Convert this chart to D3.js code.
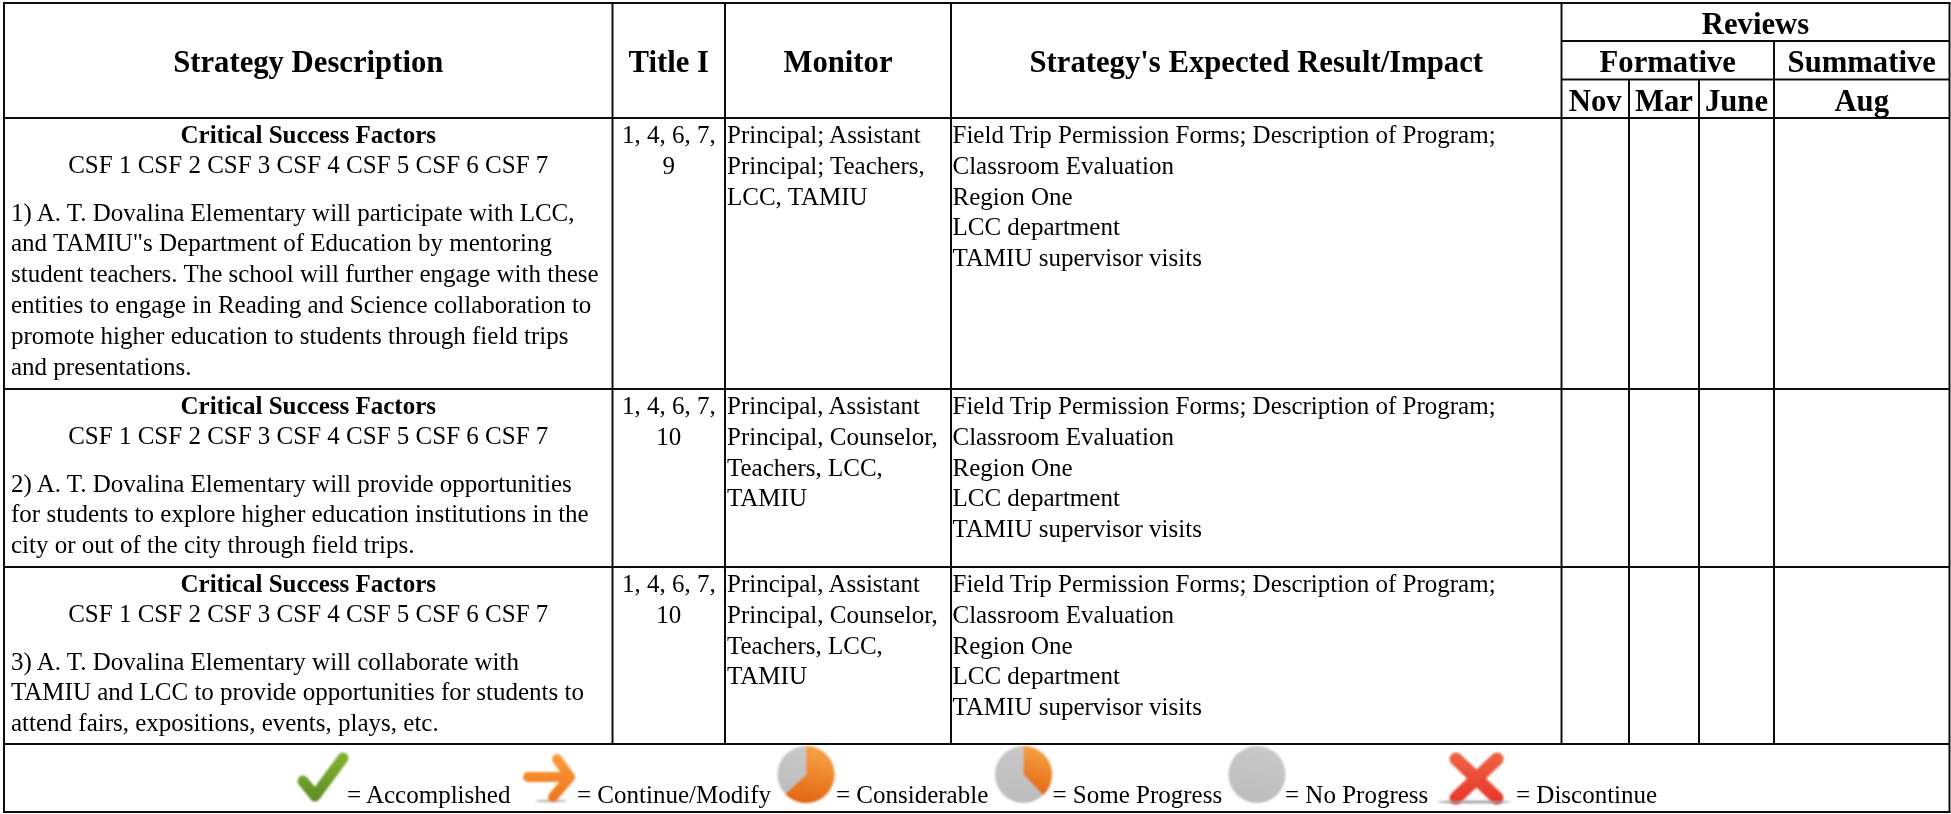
<!DOCTYPE html>
<html>
<head>
<meta charset="utf-8">
<script src="https://cdn.jsdelivr.net/npm/d3@7"></script>
<style>
  html, body { margin: 0; padding: 0; background: #fff; overflow: hidden; }
  text { font-family: "Liberation Serif", serif; fill: #000; }
</style>
</head>
<body>
<div id="wrapper"></div>
<script>
const columns = ["strategy", "title", "monitor", "impact", "nov", "mar", "june", "aug"];
const rows = ["reviews", "reviewType", "months", "one", "two", "three", "legend"];

const headerLabels = [
  { text: "Strategy Description", col: "strategy", span: 1, row: "reviewType" },
  { text: "Title I", col: "title", span: 1, row: "reviewType" },
  { text: "Monitor", col: "monitor", span: 1, row: "reviewType" },
  { text: "Strategy's Expected Result/Impact", col: "impact", span: 1, row: "reviewType" },
  { text: "Reviews", col: "nov", span: 4, row: "reviews" },
  { text: "Formative", col: "nov", span: 3, row: "reviewType" },
  { text: "Summative", col: "aug", span: 1, row: "reviewType" },
  { text: "Nov", col: "nov", span: 1, row: "months" },
  { text: "Mar", col: "mar", span: 1, row: "months" },
  { text: "June", col: "june", span: 1, row: "months" },
  { text: "Aug", col: "aug", span: 1, row: "months" }
];

const csfTitle = "Critical Success Factors";
const csfList = "CSF 1 CSF 2 CSF 3 CSF 4 CSF 5 CSF 6 CSF 7";

const strategyOne = [
  "1) A. T. Dovalina Elementary will participate with LCC,",
  "and TAMIU\"s Department of Education by mentoring",
  "student teachers. The school will further engage with these",
  "entities to engage in Reading and Science collaboration to",
  "promote higher education to students through field trips",
  "and presentations."
];
const strategyTwo = [
  "2) A. T. Dovalina Elementary will provide opportunities",
  "for students to explore higher education institutions in the",
  "city or out of the city through field trips."
];
const strategyThree = [
  "3) A. T. Dovalina Elementary will collaborate with",
  "TAMIU and LCC to provide opportunities for students to",
  "attend fairs, expositions, events, plays, etc."
];

const titleOne = ["1, 4, 6, 7,", "9"];
const titleTwo = ["1, 4, 6, 7,", "10"];
const titleThree = ["1, 4, 6, 7,", "10"];

const monitorOne = ["Principal; Assistant", "Principal; Teachers,", "LCC, TAMIU"];
const monitorTwo = ["Principal, Assistant", "Principal, Counselor,", "Teachers, LCC,", "TAMIU"];
const monitorThree = ["Principal, Assistant", "Principal, Counselor,", "Teachers, LCC,", "TAMIU"];

const impactLines = [
  "Field Trip Permission Forms; Description of Program;",
  "Classroom Evaluation",
  "Region One",
  "LCC department",
  "TAMIU supervisor visits"
];

const legendLabels = ["= Accomplished", "= Continue/Modify", "= Considerable", "= Some Progress", "= No Progress", "= Discontinue"];

// layout
const width = 1951, height = 814;
const xEdges = [4, 612.5, 725, 951, 1561.5, 1629, 1699, 1774, 1949.5];
const yEdges = [3, 41, 79.5, 118, 389, 567, 744, 812];
const lineStep = 30.8;
const fontSize = 25;
const headerSize = 30.7;

const x = d3.scaleOrdinal().domain(columns.concat("end")).range(xEdges);
const y = d3.scaleOrdinal().domain(rows.concat("end")).range(yEdges);

const svg = d3.select("#wrapper").append("svg")
  .attr("width", width)
  .attr("height", height)
  .style("display", "block");

const defs = svg.append("defs");
function blur(id, amount) {
  defs.append("filter").attr("id", id)
    .attr("x", "-20%").attr("y", "-20%").attr("width", "140%").attr("height", "140%")
    .append("feGaussianBlur").attr("stdDeviation", amount);
}
blur("crisp", 0.35);
blur("soft", 0.9);
defs.append("filter").attr("id", "shadow")
  .attr("x", "-20%").attr("y", "-400%").attr("width", "140%").attr("height", "900%")
  .append("feGaussianBlur").attr("stdDeviation", 1.2);

function gradient(id, top, bottom) {
  const g = defs.append("linearGradient").attr("id", id)
    .attr("x1", 0.6).attr("y1", 0).attr("x2", 0.4).attr("y2", 1)
    .attr("gradientUnits", "objectBoundingBox");
  g.append("stop").attr("offset", "0%").attr("stop-color", top);
  g.append("stop").attr("offset", "100%").attr("stop-color", bottom);
}
gradient("pieOrange", "#f7a548", "#e2660f");
gradient("pieGray", "#c9c9c9", "#bcbcbc");

// same colours for the stroked icons, in page units
function strokeGradient(id, y1, y2, top, bottom) {
  const g = defs.append("linearGradient").attr("id", id)
    .attr("gradientUnits", "userSpaceOnUse")
    .attr("x1", 0).attr("x2", 0).attr("y1", y1).attr("y2", y2);
  g.append("stop").attr("offset", "0%").attr("stop-color", top);
  g.append("stop").attr("offset", "100%").attr("stop-color", bottom);
}
strokeGradient("checkGreen", 752, 803, "#84b52f", "#5b8a26");
strokeGradient("arrowOrange", 755, 803, "#fb9a3c", "#ee7419");
strokeGradient("crossRed", 752, 803, "#ee6544", "#e8342a");

const page = svg.append("g").attr("filter", "url(#crisp)");

// grid lines
const grid = page.append("g").attr("stroke", "#111").attr("stroke-width", 2);

function hline(y0, x1, x2) {
  grid.append("line").attr("x1", x1).attr("x2", x2).attr("y1", y0).attr("y2", y0);
}
function vline(x0, y1, y2) {
  grid.append("line").attr("x1", x0).attr("x2", x0).attr("y1", y1).attr("y2", y2);
}

hline(y("reviews"), x("strategy") - 1, x("end") + 1);
hline(y("reviewType"), x("nov"), x("end"));
hline(y("months"), x("nov"), x("end"));
["months", "one", "two", "three"].forEach(r => {
  const next = rows[rows.indexOf(r) + 1];
  hline(y(next), x("strategy"), x("end"));
});
hline(y("end"), x("strategy") - 1, x("end") + 1);

vline(x("strategy"), y("reviews"), y("end"));
vline(x("end"), y("reviews"), y("end"));
["title", "monitor", "impact", "nov"].forEach(c => vline(x(c), y("reviews"), y("legend")));
vline(x("aug"), y("reviewType"), y("legend"));
["mar", "june"].forEach(c => vline(x(c), y("months"), y("legend")));

// header
const nextCol = (c, span) => columns.concat("end")[columns.indexOf(c) + span];
page.append("g").selectAll("text")
  .data(headerLabels)
  .join("text")
    .attr("x", d => (x(d.col) + x(nextCol(d.col, d.span))) / 2)
    .attr("y", d => y(d.row) + 31)
    .attr("text-anchor", "middle")
    .attr("font-size", headerSize)
    .attr("font-weight", "bold")
    .text(d => d.text);

// body rows
const body = [
  { row: "one", strategy: strategyOne, title: titleOne, monitor: monitorOne },
  { row: "two", strategy: strategyTwo, title: titleTwo, monitor: monitorTwo },
  { row: "three", strategy: strategyThree, title: titleThree, monitor: monitorThree }
];

function textBlock(g, lines, xPos, yPos, anchor, weight) {
  g.append("g").selectAll("text")
    .data(lines)
    .join("text")
      .attr("x", xPos)
      .attr("y", (d, i) => yPos + i * lineStep)
      .attr("text-anchor", anchor)
      .attr("font-size", fontSize)
      .attr("font-weight", weight)
      .text(d => d);
}

body.forEach(b => {
  const g = page.append("g");
  const top = y(b.row);
  const strategyMid = (x("strategy") + x("title")) / 2;
  textBlock(g, [csfTitle], strategyMid, top + 25, "middle", "bold");
  textBlock(g, [csfList], strategyMid, top + 55, "middle", "normal");
  textBlock(g, b.strategy, x("strategy") + 7, top + 102.5, "start", "normal");
  textBlock(g, b.title, (x("title") + x("monitor")) / 2, top + 25, "middle", "normal");
  textBlock(g, b.monitor, x("monitor") + 2, top + 25, "start", "normal");
  textBlock(g, impactLines, x("impact") + 1.5, top + 25, "start", "normal");
});

// legend
const legendX = d3.scaleOrdinal().domain(legendLabels).range([347, 577, 836, 1052.5, 1285, 1516]);
const legendY = y("legend") + 59;
page.append("g").selectAll("text")
  .data(legendLabels)
  .join("text")
    .attr("x", d => legendX(d))
    .attr("y", legendY)
    .attr("font-size", fontSize)
    .text(d => d);

const icons = svg.append("g").attr("filter", "url(#soft)");

// check mark
icons.append("path")
  .attr("d", "M303,781 L315,796 L343,758")
  .attr("fill", "none")
  .attr("stroke", "url(#checkGreen)")
  .attr("stroke-width", 11)
  .attr("stroke-linecap", "round")
  .attr("stroke-linejoin", "round");

// arrow
icons.append("ellipse").attr("cx", 551).attr("cy", 801).attr("rx", 16).attr("ry", 1.5).attr("fill", "#bbb");
icons.append("path")
  .attr("d", "M528,777 L569,777 M557,759 L570,777 L553,797")
  .attr("fill", "none")
  .attr("stroke", "url(#arrowOrange)")
  .attr("stroke-width", 10)
  .attr("stroke-linecap", "round")
  .attr("stroke-linejoin", "round");

// pies
const arc = d3.arc();
function pie(cx, share) {
  const g = icons.append("g").attr("transform", "translate(" + cx + ",774.5)");
  g.append("circle").attr("r", 28.5).attr("fill", "url(#pieGray)");
  if (share > 0) {
    g.append("path")
      .attr("d", arc({ innerRadius: 0, outerRadius: 28.5, startAngle: 0, endAngle: share * 2 * Math.PI }))
      .attr("fill", "url(#pieOrange)");
  }
}
pie(806, 0.63);
pie(1023.5, 0.38);
pie(1257, 0);

// x mark
svg.append("ellipse").attr("cx", 1474).attr("cy", 802).attr("rx", 37).attr("ry", 1.3)
  .attr("fill", "#999").attr("filter", "url(#shadow)");
icons.append("path")
  .attr("d", "M1456,759 L1497,798 M1497,759 L1456,798")
  .attr("fill", "none")
  .attr("stroke", "url(#crossRed)")
  .attr("stroke-width", 13)
  .attr("stroke-linecap", "round");
</script>
</body>
</html>
